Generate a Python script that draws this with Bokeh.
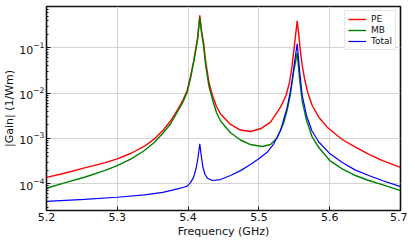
from bokeh.plotting import figure
from bokeh.models import Range1d, FixedTicker, LogTicker, Legend, LegendItem
from bokeh.embed import file_html
from bokeh.resources import INLINE

# Data (frequency in GHz, |gain| in 1/Wm)
pe_freq = [5.2000, 5.2254, 5.2537, 5.2819, 5.2999, 5.3196, 5.3384, 5.3525, 5.3643,
           5.3751, 5.3846, 5.3921, 5.3987, 5.4034, 5.4081, 5.4133, 5.4165, 5.4189,
           5.4218, 5.4246, 5.4295, 5.4345, 5.4401, 5.4458, 5.4599, 5.4740, 5.4881,
           5.5023, 5.5164, 5.5305, 5.5383, 5.5432, 5.5468, 5.5503, 5.5541, 5.5564,
           5.5588, 5.5612, 5.5644, 5.5691, 5.5753, 5.5846, 5.5965, 5.6106, 5.6199,
           5.6364, 5.6548, 5.6746, 5.7000]
pe_gain = [1.38e-4, 1.71e-4, 2.24e-4, 2.89e-4, 3.55e-4, 4.71e-4, 6.73e-4, 9.8e-4,
           1.49e-3, 2.42e-3, 4.13e-3, 6.7e-3, 1.14e-2, 2.32e-2, 5.25e-2, 0.160, 0.516,
           0.241, 0.131, 0.0525, 0.0171, 8.85e-3, 5.06e-3, 3.46e-3, 2.03e-3, 1.53e-3,
           1.42e-3, 1.63e-3, 2.28e-3, 4.89e-3, 8.85e-3, 1.71e-2, 3.87e-2, 0.118,
           0.39, 0.187, 0.080, 0.0407, 0.0207, 1.016e-2, 5.32e-3, 2.94e-3, 1.77e-3,
           1.16e-3, 9.0e-4, 6.46e-4, 4.53e-4, 3.25e-4, 2.31e-4]

mb_freq = [5.2000, 5.2254, 5.2537, 5.2819, 5.2999, 5.3196, 5.3384, 5.3525, 5.3643,
           5.3751, 5.3846, 5.3921, 5.3987, 5.4034, 5.4081, 5.4133, 5.4165, 5.4189,
           5.4218, 5.4246, 5.4295, 5.4345, 5.4401, 5.4458, 5.4599, 5.4740, 5.4881,
           5.5047, 5.5164, 5.5258, 5.5352, 5.5404, 5.5446, 5.5489, 5.5541, 5.5573,
           5.5612, 5.5672, 5.5750, 5.5846, 5.6001, 5.6177, 5.6364, 5.6552, 5.6742,
           5.7000]
mb_gain = [7.96e-5, 1.05e-4, 1.39e-4, 1.95e-4, 2.52e-4, 3.55e-4, 5.41e-4, 8.24e-4,
           1.30e-3, 2.08e-3, 3.78e-3, 6.04e-3, 1.047e-2, 2.10e-2, 4.99e-2, 0.145,
           0.474, 0.218, 0.112, 0.0428, 0.0140, 7.23e-3, 3.73e-3, 2.42e-3, 1.33e-3,
           9.23e-4, 7.33e-4, 6.62e-4, 7.33e-4, 1.02e-3, 2.24e-3, 4.57e-3, 9.66e-3,
           0.0285, 0.076, 0.0215, 6.53e-3, 2.55e-3, 1.10e-3, 6.3e-4, 3.25e-4,
           2.13e-4, 1.52e-4, 1.18e-4, 9.6e-5, 7.08e-5]

total_freq = [5.2000, 5.2537, 5.2999, 5.3384, 5.3643, 5.3836, 5.3939, 5.3987, 5.4034,
              5.4076, 5.4112, 5.4140, 5.4165, 5.4189, 5.4210, 5.4239, 5.4274, 5.4340,
              5.4458, 5.4599, 5.4740, 5.4881, 5.4999, 5.5117, 5.5210, 5.5305, 5.5400,
              5.5439, 5.5470, 5.5503, 5.5541, 5.5573, 5.5612, 5.5672, 5.5750, 5.5846,
              5.6001, 5.6177, 5.6364, 5.6552, 5.6742, 5.7000]
total_gain = [4.11e-5, 4.55e-5, 5.04e-5, 5.69e-5, 6.49e-5, 7.6e-5, 8.37e-5, 8.9e-5,
              1.06e-4, 1.37e-4, 2.17e-4, 3.79e-4, 7.6e-4, 3.79e-4, 2.28e-4, 1.6e-4,
              1.32e-4, 1.18e-4, 1.24e-4, 1.52e-4, 1.95e-4, 2.65e-4, 3.55e-4, 4.95e-4,
              7.6e-4, 1.49e-3, 4.89e-3, 9.8e-3, 0.0190, 0.0474, 0.1225, 0.0332,
              8.85e-3, 3.21e-3, 1.46e-3, 8.33e-4, 4.64e-4, 2.94e-4, 2.0e-4, 1.52e-4,
              1.18e-4, 8.67e-5]

x_ticks = [5.2, 5.3, 5.4, 5.5, 5.6, 5.7]
series_names = ["PE", "MB", "Total"]
series_colors = ["#ff0000", "#008000", "#0000ff"]

FONT = "DejaVu Sans"

p = figure(width=407, height=240, output_backend="svg", toolbar_location=None,
           y_axis_type="log",
           x_range=Range1d(5.2, 5.7), y_range=Range1d(2.575e-5, 0.81),
           min_border_left=46, min_border_right=7, min_border_top=6,
           min_border_bottom=30)

r_pe = p.line(pe_freq, pe_gain, line_color=series_colors[0], line_width=1.4)
r_mb = p.line(mb_freq, mb_gain, line_color=series_colors[1], line_width=1.4)
r_tot = p.line(total_freq, total_gain, line_color=series_colors[2], line_width=1.2)

p.outline_line_color = "#111111"
p.outline_line_width = 1.6
p.background_fill_color = "white"
p.border_fill_color = "white"

p.xaxis.ticker = FixedTicker(ticks=x_ticks)
p.yaxis.ticker = LogTicker(num_minor_ticks=10)

for ax in (p.xaxis[0], p.yaxis[0]):
    ax.axis_line_color = None
    ax.major_tick_in = 4
    ax.major_tick_out = 0
    ax.minor_tick_in = 2
    ax.minor_tick_out = 0
    ax.major_tick_line_color = "#111111"
    ax.minor_tick_line_color = "#111111"
    ax.major_label_text_font = FONT
    ax.major_label_text_font_size = "11px"
    ax.major_label_text_color = "#111111"
    ax.axis_label_text_font = FONT
    ax.axis_label_text_font_size = "11px"
    ax.axis_label_text_font_style = "normal"
    ax.axis_label_text_color = "#111111"
    ax.major_label_standoff = 2
    ax.axis_label_standoff = 0

p.xaxis.minor_tick_line_color = None
p.xaxis.major_label_standoff = 2
p.xaxis.axis_label_standoff = 1
p.xaxis.axis_label = "Frequency (GHz)"
p.yaxis.axis_label = "|Gain| (1/Wm)"

p.xgrid.grid_line_color = "#d4d4d4"
p.ygrid.grid_line_color = "#d4d4d4"
p.xgrid.grid_line_width = 1
p.ygrid.grid_line_width = 1
p.xgrid.ticker = FixedTicker(ticks=x_ticks)

legend = Legend(items=[LegendItem(label=series_names[0], renderers=[r_pe]),
                       LegendItem(label=series_names[1], renderers=[r_mb]),
                       LegendItem(label=series_names[2], renderers=[r_tot])],
                location="top_right")
legend.margin = 4
legend.padding = 3
legend.spacing = 1
legend.label_height = 10
legend.glyph_height = 10
legend.glyph_width = 18
legend.label_standoff = 5
legend.label_text_font = FONT
legend.label_text_font_size = "9px"
legend.label_text_color = "#111111"
legend.border_line_color = "#cccccc"
legend.border_line_width = 1
legend.background_fill_color = "white"
legend.background_fill_alpha = 0.9
p.add_layout(legend)

open("out.html", "w").write(file_html(p, INLINE))
